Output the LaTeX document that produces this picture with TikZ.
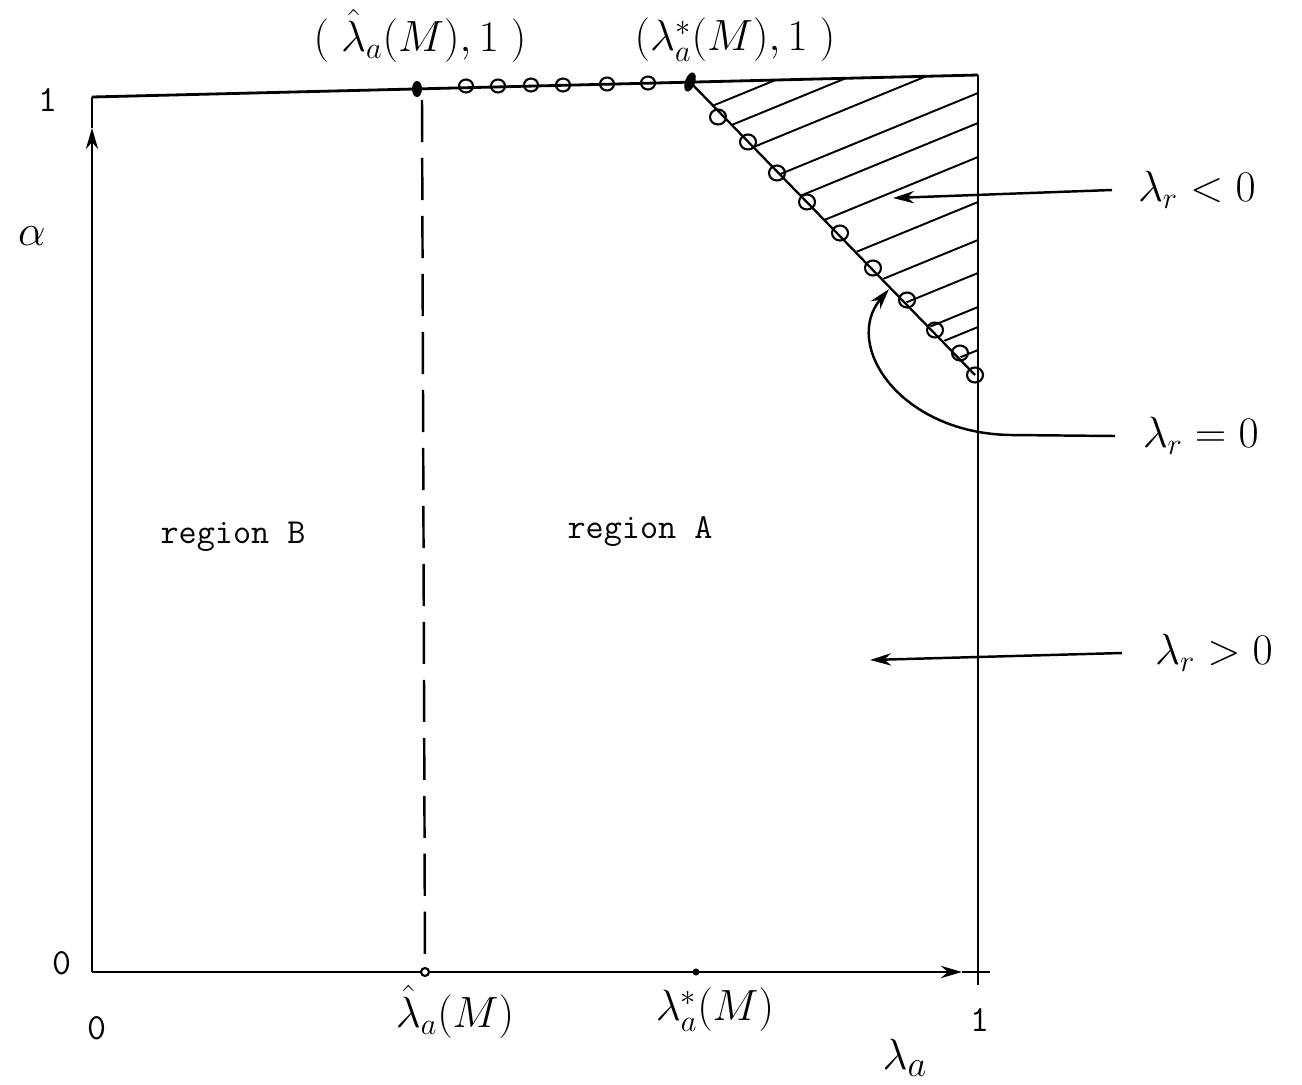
\documentclass[tikz,border=0pt]{standalone}
\usetikzlibrary{arrows.meta}
\begin{document}
\begin{tikzpicture}[x=0.02cm,y=-0.02cm,line width=1.6pt,
  tipa/.style={-{Stealth[length=12pt,width=7pt]}},
  mathlbl/.style={font=\fontsize{24}{28}\selectfont,inner sep=0pt},
  ttlbl/.style={font=\fontsize{21}{24}\selectfont\ttfamily,inner sep=0pt},
  regionlbl/.style={font=\fontsize{20}{24}\selectfont\ttfamily,inner sep=0pt},
  hatch/.style={line width=1.1pt},
  hole/.style={line width=1.2pt}]
\fill[white] (0,0) rectangle (1302,1085);
\useasboundingbox (0,0) rectangle (1302,1085);
% key coordinates
\coordinate (O) at (92,972);
\coordinate (Ytop) at (92,97);
\coordinate (Yarr) at (92,128);
\coordinate (Xend) at (990,972);
\coordinate (Xarr) at (962,972);
\coordinate (TR) at (978,75);
\coordinate (BR) at (978,985);
\coordinate (Phat) at (417,89);
\coordinate (Pstar) at (690,82);
\coordinate (Dend) at (975,375);
% hatching
\begin{scope}
\clip (Pstar) -- (TR) -- (978,375) -- cycle;
\foreach \yy in {-3,24,55,93,123,157,202,240,273,307,327,350}
  \draw[hatch] (978,\yy) -- ++(-400,164);
\end{scope}
% axes and frame
\draw[tipa] (O) -- (Yarr);
\draw (Yarr) -- (Ytop);
\draw[tipa] (O) -- (Xarr);
\draw (Xarr) -- (Xend);
\draw (Ytop) -- (TR);
\draw (TR) -- (BR);
% dashed line
\draw[line width=1.4pt,dash pattern=on 24pt off 9pt] (422,100) -- (425,968);
% diagonal
\draw[line width=1.3pt] (Pstar) -- (Dend);
% points
\fill (Phat) ellipse [x radius=5, y radius=8];
\fill[rotate around={-20:(Pstar)}] (Pstar) ellipse [x radius=5, y radius=10];
\foreach \px/\py in {466/86,498/86,531/85,563/85,607/84,648/83}
  \draw[hole] (\px,\py) ellipse [x radius=7, y radius=6.5];
\foreach \px/\py in {718/117,748/142,777/173,807/202,840/233,873/268,907/300,935/330,960/353,975/375}
  \draw[hole] (\px,\py) ellipse [x radius=8, y radius=7.5];
% ticks on x axis
\draw[line width=1.2pt,fill=white] (425,972) circle [radius=4];
\fill (696,972) circle [radius=3.5];
% labels
\node[mathlbl] (pthat) at (420,36) {$(\;\hat{\lambda}_a(M), 1\;)$};
\node[mathlbl] (pstar) at (735,40) {$(\lambda_a^{*}(M), 1\;)$};
\node[font=\fontsize{34}{38}\selectfont,inner sep=0pt] (alph) at (32,236) {$\alpha$};
\node[ttlbl] (y1) at (48,100) {1};
\node[ttlbl] (y0) at (62,963) {0};
\node[ttlbl] (x0) at (97,1028) {0};
\node[ttlbl] (x1) at (980,1020) {1};
\node[mathlbl] (lhat) at (455,1012) {$\hat{\lambda}_a(M)$};
\node[mathlbl] (lstar) at (715,1010) {$\lambda_a^{*}(M)$};
\node[font=\fontsize{28}{32}\selectfont,inner sep=0pt] (lax) at (905,1058) {$\lambda_a$};
\node[regionlbl] (rb) at (233,537) {region B};
\node[regionlbl] (ra) at (640,532) {region A};
% right labels and arrows
\node[mathlbl,anchor=west,inner xsep=14pt] (lneg) at (1112,190) {$\lambda_r < 0$};
\node[mathlbl,anchor=west,inner xsep=15pt] (lzero) at (1115,436) {$\lambda_r = 0$};
\node[mathlbl,anchor=west,inner xsep=18pt] (lpos) at (1122,653) {$\lambda_r > 0$};
\coordinate (tneg) at (893,198);
\coordinate (tzero) at (889,289);
\coordinate (tpos) at (870,660);
\draw[tipa,line width=1.4pt] (lneg.west) -- (tneg);
\draw[tipa,line width=1.4pt] (lpos.west) -- (tpos);
\draw[tipa,line width=1.4pt] (lzero.west) -- (1010,435) .. controls (900,433) and (842,345) .. (tzero);
\end{tikzpicture}
\end{document}
